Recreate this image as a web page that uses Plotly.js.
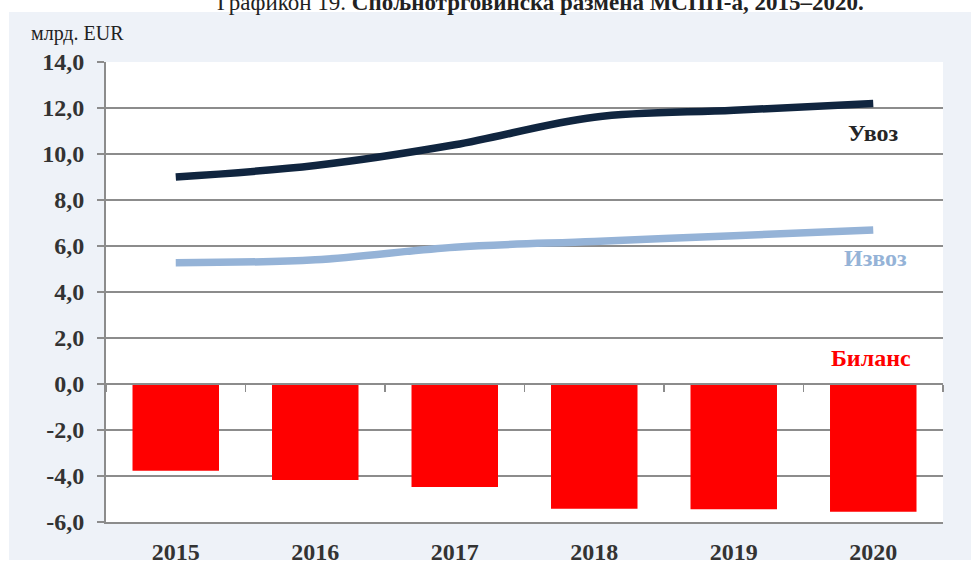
<!DOCTYPE html>
<html>
<head>
<meta charset="utf-8">
<script src="https://cdn.plot.ly/plotly-3.0.1.min.js"></script>
<style>
html,body{margin:0;padding:0;background:#fff;}
#chart{width:971px;height:561px;}
</style>
</head>
<body>
<div id="chart"></div>
<script>
// Data (млрд. EUR)
const years = ['2015', '2016', '2017', '2018', '2019', '2020'];
const uvoz = [9.0, 9.5, 10.4, 11.6, 11.9, 12.2];
const izvoz = [5.27, 5.4, 5.95, 6.2, 6.45, 6.7];
const bilans = [-3.77, -4.17, -4.48, -5.42, -5.45, -5.55];
const yTickVals = [-6, -4, -2, 0, 2, 4, 6, 8, 10, 12, 14];
const yTickText = ['-6,0', '-4,0', '-2,0', '0,0', '2,0', '4,0', '6,0', '8,0', '10,0', '12,0', '14,0'];
const seriesNames = ['Увоз', 'Извоз', 'Биланс'];
const titleText = 'Графикон 19. <b>Спољнотрговинска размена МСПП-а, 2015–2020.</b>';
const unitText = 'млрд. EUR';

const W = 971, H = 561;
const M = {l: 106, r: 28, t: 62, b: 39};
const PW = W - M.l - M.r, PH = H - M.t - M.b;
const px = x => (x - M.l) / PW;
const py = y => 1 - (y - M.t) / PH;

const FONT = '"Liberation Serif", "Times New Roman", serif';
const GRID = '#8c8c8c';

const traces = [
  {
    type: 'bar', x: years, y: bilans, xaxis: 'x2', yaxis: 'y',
    marker: {color: '#ff0000'}, width: 0.62, name: seriesNames[2],
    hoverinfo: 'x+y'
  },
  {
    type: 'scatter', mode: 'lines', x: years, y: uvoz, name: seriesNames[0],
    line: {color: '#10253f', width: 7.5, shape: 'spline', smoothing: 1}
  },
  {
    type: 'scatter', mode: 'lines', x: years, y: izvoz, name: seriesNames[1],
    line: {color: '#95b3d7', width: 7.5, shape: 'spline', smoothing: 1}
  }
];

const layout = {
  width: W, height: H,
  margin: M,
  showlegend: false,
  paper_bgcolor: '#ffffff',
  plot_bgcolor: '#ffffff',
  font: {family: FONT, color: '#333333'},
  xaxis: {
    type: 'category', range: [-0.5, 5.5], fixedrange: true,
    showline: true, linecolor: GRID, linewidth: 2,
    ticks: '', showgrid: false, zeroline: false,
    tickfont: {family: FONT, size: 24, color: '#333333', weight: 'bold'},
    ticklabelstandoff: 7
  },
  xaxis2: {
    type: 'category', range: [-0.5, 5.5], overlaying: 'x', anchor: 'free',
    position: 0.3, side: 'bottom',
    showline: true, linecolor: GRID, linewidth: 2,
    ticks: 'outside', ticklen: 7, tickwidth: 1.5, tickcolor: GRID,
    tickson: 'boundaries', showticklabels: false, showgrid: false, zeroline: false
  },
  yaxis: {
    range: [-6, 14], tickvals: yTickVals, ticktext: yTickText,
    showline: true, linecolor: GRID, linewidth: 2,
    ticks: 'outside', ticklen: 7, tickwidth: 1.5, tickcolor: GRID,
    showgrid: true, gridcolor: GRID, gridwidth: 1.5, zeroline: false,
    tickfont: {family: FONT, size: 24, color: '#333333', weight: 'bold'},
    ticklabelstandoff: 8
  },
  shapes: [
    {type: 'rect', xref: 'paper', yref: 'paper', layer: 'below',
     x0: px(9), x1: px(971), y0: py(12), y1: py(560),
     fillcolor: '#eef2f8', line: {width: 0}},
    {type: 'rect', xref: 'paper', yref: 'paper', layer: 'below',
     x0: 0, x1: 1, y0: 0, y1: 1,
     fillcolor: '#ffffff', line: {width: 0}}
  ],
  annotations: [
    {xref: 'paper', yref: 'paper', x: px(540), y: py(2), xanchor: 'center', yanchor: 'middle',
     text: titleText, showarrow: false, font: {family: FONT, size: 23, color: '#222222'}},
    {xref: 'paper', yref: 'paper', x: px(29), y: py(33), xanchor: 'left', yanchor: 'middle',
     text: unitText, showarrow: false, font: {family: FONT, size: 20, color: '#222222'}},
    {xref: 'paper', yref: 'paper', x: px(873), y: py(133), xanchor: 'center', yanchor: 'middle',
     text: '<b>' + seriesNames[0] + '</b>', showarrow: false,
     font: {family: FONT, size: 24, color: '#262626'}},
    {xref: 'paper', yref: 'paper', x: px(875), y: py(258), xanchor: 'center', yanchor: 'middle',
     text: '<b>' + seriesNames[1] + '</b>', showarrow: false,
     font: {family: FONT, size: 24, color: '#95b3d7'}},
    {xref: 'paper', yref: 'paper', x: px(871), y: py(358), xanchor: 'center', yanchor: 'middle',
     text: '<b>' + seriesNames[2] + '</b>', showarrow: false,
     font: {family: FONT, size: 24, color: '#ff0000'}}
  ]
};

Plotly.newPlot('chart', traces, layout, {displayModeBar: false, staticPlot: true});
</script>
</body>
</html>
